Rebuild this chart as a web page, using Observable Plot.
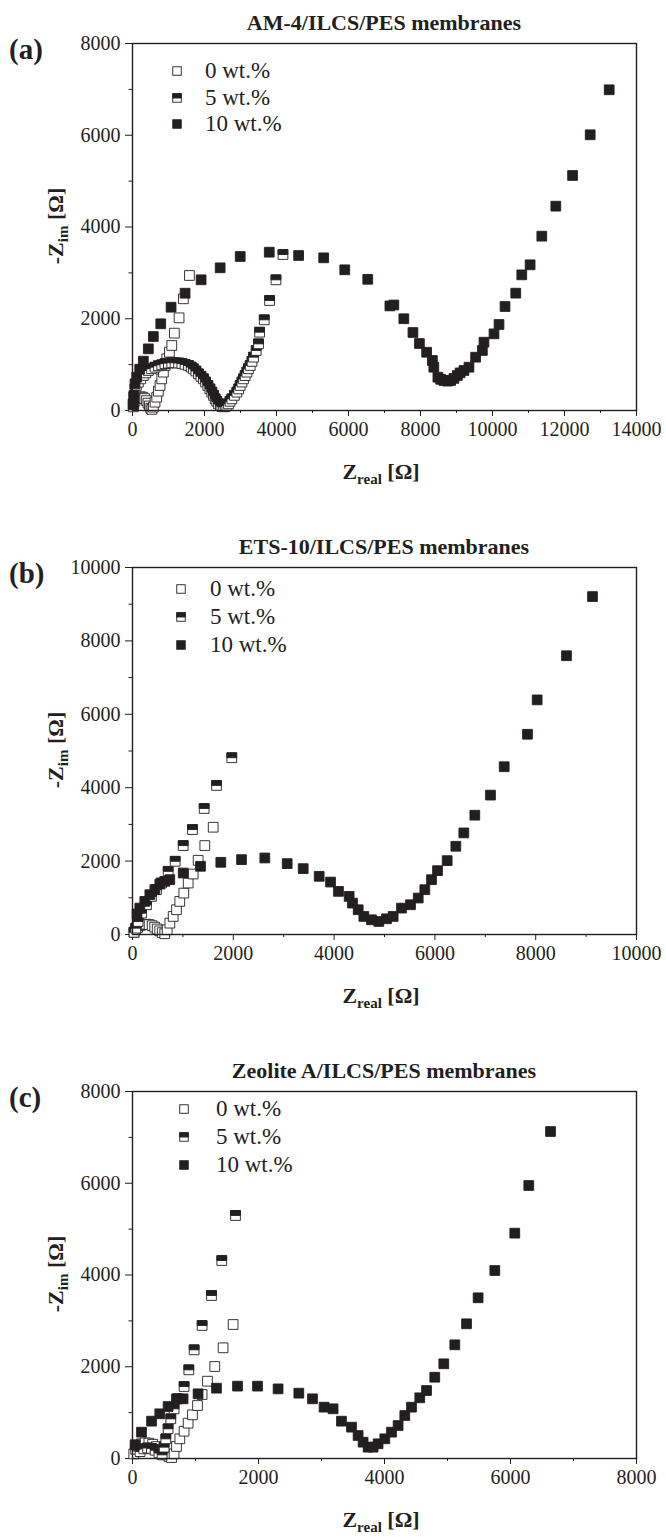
<!DOCTYPE html>
<html><head><meta charset="utf-8">
<script src="https://cdn.jsdelivr.net/npm/d3@7"></script>
<script src="https://cdn.jsdelivr.net/npm/@observablehq/plot@0.6"></script>
<style>
body{margin:0;background:#fff;}
#fig{width:666px;}
#fig svg{display:block;}
</style></head><body><div id="fig"></div>
<script>
// ---------- tick values ----------
const aXMajor = [0,2000,4000,6000,8000,10000,12000,14000];
const aXMinor = [1000,3000,5000,7000,9000,11000,13000];
const aYMajor = [0,2000,4000,6000,8000];
const aYMinor = [1000,3000,5000,7000];
const bXMajor = [0,2000,4000,6000,8000,10000];
const bXMinor = [1000,3000,5000,7000,9000];
const bYMajor = [0,2000,4000,6000,8000,10000];
const bYMinor = [1000,3000,5000,7000,9000];
const cXMajor = [0,2000,4000,6000,8000];
const cXMinor = [1000,3000,5000,7000];
const cYMajor = [0,2000,4000,6000,8000];
const cYMinor = [1000,3000,5000,7000];

const legendLabels = ["0 wt.%","5 wt.%","10 wt.%"];
const titles = ["AM-4/ILCS/PES membranes","ETS-10/ILCS/PES membranes","Zeolite A/ILCS/PES membranes"];
const panelTags = ["(a)","(b)","(c)"];

// ---------- data: [Z_real, -Z_im] in Ohm ----------
// (a) AM-4
const a0 = [[20,80],[40,150],[70,210],[110,260],[160,290],[220,300],[280,290],[340,260],[390,215],[430,160],[470,100],[510,50],[540,25],
  [579,73],[626,182],[673,291],[719,421],[765,545],[812,690],[858,836],[905,981],[951,1126],[1025,1272],[1091,1417],[1163,1686],[1294,2020],[1414,2435],[1581,2943]];
const a5 = [[20,150],[40,300],[70,472],[110,550],[162,617],[230,690],[301,763],[370,820],[440,872],[530,910],[626,944],[720,975],[812,996],[900,1020],[997,1032],[1090,1040],[1183,1040],[1280,1035],[1369,1025],[1460,1005],[1554,981],[1630,945],[1693,908],[1760,860],[1832,799],[1900,745],[1971,690],[2030,620],[2092,545],[2150,470],[2203,400],[2250,330],[2296,254],[2340,200],[2389,145],[2440,110],[2482,87],[2530,80],[2574,87],[2620,110],[2667,145],[2710,200],[2760,254],[2830,330],[2899,400],[2950,470],[2992,545],[3040,620],[3084,690],[3130,760],[3177,836],[3220,910],[3270,981],[3320,1070],[3362,1163],[3437,1308],[3501,1453],[3530,1707],[3660,1977],[3808,2398],[3985,2849],[4180,3400]];
const a10 = [[20,120],[40,330],[70,581],[117,726],[200,900],[301,1075],[440,1344],[579,1613],[785,1890],[1072,2252],[1461,2557],[1906,2849],[2435,3110],[2992,3357],[3799,3451],[4615,3379],[5311,3328],[5896,3067],[6535,2860],[7150,2280],[7260,2300],[7537,2000],[7790,1700],[7970,1460],[8170,1270],[8330,1090],[8370,944],[8483,726],[8560,680],[8650,654],[8750,640],[8836,654],[8930,700],[9023,763],[9100,820],[9207,872],[9346,944],[9532,1162],[9718,1308],[9763,1489],[10042,1671],[10181,1875],[10348,2267],[10646,2558],[10813,2957],[11045,3176],[11370,3800],[11759,4454],[12224,5123],[12714,6010],[13242,6991]];

// (b) ETS-10
const b0 = [[30,60],[60,130],[100,190],[150,240],[210,270],[270,280],[330,270],[390,240],[440,200],[490,150],[540,100],[590,50],[640,20],
  [688,128],[741,309],[807,492],[873,674],[938,902],[1018,1128],[1105,1402],[1204,1648],[1303,2022],[1435,2423],[1601,2923]];
const b5 = [[30,60],[66,173],[112,355],[179,583],[278,811],[377,1038],[476,1221],[575,1402],[708,1721],[847,1995],[1006,2423],[1190,2860],[1422,3434],[1667,4062],[1970,4817]];
const b10 = [[90,560],[145,719],[244,902],[344,1085],[443,1221],[542,1374],[641,1448],[740,1494],[1006,1675],[1349,1858],[1752,1967],[2163,2040],[2625,2085],[3069,1931],[3387,1795],[3704,1585],[3929,1429],[4087,1175],[4299,1038],[4365,855],[4478,674],[4590,492],[4742,401],[4887,355],[5040,428],[5172,492],[5337,719],[5516,811],[5669,993],[5800,1221],[5933,1494],[6052,1740],[6244,2013],[6415,2404],[6574,2768],[6792,3251],[7103,3798],[7375,4572],[7837,5456],[8029,6393],[8611,7596],[9127,9208]];

// (c) Zeolite A
const c0 = [[20,100],[50,200],[90,270],[140,320],[200,340],[260,335],[320,310],[380,260],[430,200],[480,140],[530,80],[580,40],[620,20],
  [660,102],[698,262],[751,429],[819,595],[883,770],[952,952],[1032,1155],[1105,1395],[1190,1685],[1306,2005],[1438,2413],[1597,2921]];
const c5 = [[120,150],[180,210],[240,230],[300,220],[360,180],[420,120],[470,80],[502,247],[529,429],[565,647],[608,865],[660,1083],[724,1301],[819,1569],[894,1933],[978,2369],[1105,2899],[1254,3553],[1417,4316],[1635,5297]];
const c10 = [[40,300],[143,574],[302,814],[433,974],[565,1133],[698,1301],[803,1301],[1041,1410],[1333,1533],[1667,1577],[1984,1577],[2311,1518],[2640,1424],[2857,1301],[3041,1119],[3184,1083],[3317,814],[3476,683],[3581,501],[3660,356],[3740,247],[3819,247],[3898,320],[4005,429],[4111,574],[4216,719],[4322,937],[4429,1119],[4560,1323],[4667,1482],[4798,1772],[4941,2064],[5116,2478],[5302,2936],[5486,3503],[5751,4098],[6068,4912],[6290,5951],[6635,7128]];

// ---------- drawing ----------
const INK = "#231f20";
const FONT = "'Liberation Serif','Times New Roman',serif";
const sq = {draw(c,s){const w=Math.sqrt(s)/2;c.moveTo(-w,-w);c.lineTo(w,-w);c.lineTo(w,w);c.lineTo(-w,w);c.closePath();}};
const half = {draw(c,s){const w=Math.sqrt(s)/2;c.moveTo(-w,-w);c.lineTo(w,-w);c.lineTo(w,0);c.lineTo(-w,0);c.closePath();}};

function points(s0,s5,s10){
  const out=[];
  for (const [x,y] of s0) out.push({x,y,sym:sq,fill:"#ffffff"});
  for (const [x,y] of s5){ out.push({x,y,sym:sq,fill:"#ffffff"}); out.push({x,y,sym:half,fill:INK}); }
  for (const [x,y] of s10) out.push({x,y,sym:sq,fill:INK});
  return out;
}

function panel(cfg){
  const H = cfg.height;
  const fmt = d3.format("d");
  const plot = Plot.plot({
    width:666, height:H, marginTop:43, marginBottom:H-410, marginLeft:132, marginRight:30,
    style:{fontFamily:FONT, fontSize:"20px", color:INK, background:"#fff"},
    x:{domain:[0,cfg.xmax]}, y:{domain:[0,cfg.ymax]},
    symbol:{type:"identity"}, color:{type:"identity"},
    marks:[
      Plot.axisX({ticks:cfg.xMajor, tickSize:6, tickPadding:5, tickFormat:fmt, label:null, fontSize:20}),
      Plot.axisX({ticks:cfg.xMinor, tickSize:3, tickFormat:()=> "", label:null}),
      Plot.axisY({ticks:cfg.yMajor, tickSize:7, tickPadding:5, tickFormat:fmt, label:null, fontSize:20}),
      Plot.axisY({ticks:cfg.yMinor, tickSize:3.5, tickFormat:()=> "", label:null}),
      Plot.dot(points(cfg.s0,cfg.s5,cfg.s10), {x:"x", y:"y", symbol:"sym", fill:"fill", stroke:INK, strokeWidth:0.9, r:5.5}),
      Plot.frame({stroke:INK, strokeWidth:1.4})
    ]
  });
  const svg = d3.select(plot);
  svg.append("text").attr("x",384).attr("y",30).attr("text-anchor","middle")
    .attr("font-family",FONT).attr("font-weight","bold").attr("font-size",22).attr("fill",INK).text(cfg.title);
  svg.append("text").attr("x",9).attr("y",59).attr("text-anchor","start")
    .attr("font-family",FONT).attr("font-weight","bold").attr("font-size",29).attr("fill",INK).text(cfg.tag);
  // y label
  const yl = svg.append("text").attr("transform","translate(63,226) rotate(-90)").attr("text-anchor","middle")
    .attr("font-family",FONT).attr("font-weight","bold").attr("font-size",22).attr("fill",INK);
  yl.append("tspan").text("-Z");
  yl.append("tspan").attr("font-size",15).attr("dy",5).text("im");
  yl.append("tspan").attr("dy",-5).text(" [\u03A9]");
  // x label
  const xl = svg.append("text").attr("x",381).attr("y",479).attr("text-anchor","middle")
    .attr("font-family",FONT).attr("font-weight","bold").attr("font-size",22).attr("fill",INK);
  xl.append("tspan").text("Z");
  xl.append("tspan").attr("font-size",15).attr("dy",5).text("real");
  xl.append("tspan").attr("dy",-5).text(" [\u03A9]");
  // legend
  const lg = svg.append("g").attr("text-anchor","start");
  legendLabels.forEach((lab,i)=>{
    const cy = cfg.legY[i], s = 8.5;
    lg.append("rect").attr("x",cfg.legX-s/2).attr("y",cy-s/2).attr("width",s).attr("height",s)
      .attr("fill", i===2 ? INK : "#fff").attr("stroke",INK).attr("stroke-width",0.9);
    if (i===1) lg.append("rect").attr("x",cfg.legX-s/2).attr("y",cy-s/2).attr("width",s).attr("height",s/2)
      .attr("fill",INK).attr("stroke",INK).attr("stroke-width",0.9);
    lg.append("text").attr("x",cfg.legTx).attr("y",cy+7).attr("text-anchor","start").attr("font-family",FONT).attr("font-size",23)
      .attr("fill",INK).text(lab);
  });
  return plot;
}

const fig = document.getElementById("fig");
fig.appendChild(panel({height:524, xmax:14000, ymax:8000, xMajor:aXMajor, xMinor:aXMinor, yMajor:aYMajor, yMinor:aYMinor,
  s0:a0, s5:a5, s10:a10, title:titles[0], tag:panelTags[0], legX:177, legY:[71,98,124], legTx:205}));
fig.appendChild(panel({height:524, xmax:10000, ymax:10000, xMajor:bXMajor, xMinor:bXMinor, yMajor:bYMajor, yMinor:bYMinor,
  s0:b0, s5:b5, s10:b10, title:titles[1], tag:panelTags[1], legX:181, legY:[65,93,121], legTx:210}));
fig.appendChild(panel({height:489, xmax:8000, ymax:8000, xMajor:cXMajor, xMinor:cXMinor, yMajor:cYMajor, yMinor:cYMinor,
  s0:c0, s5:c5, s10:c10, title:titles[2], tag:panelTags[2], legX:184, legY:[61,89,117], legTx:216}));
</script>
</body></html>
